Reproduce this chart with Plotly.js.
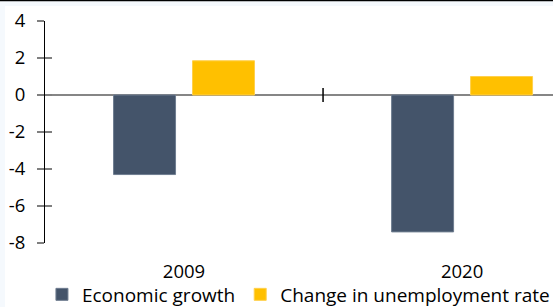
<!DOCTYPE html>
<html>
<head>
<meta charset="utf-8">
<script src="https://cdn.plot.ly/plotly-3.0.1.min.js"></script>
<style>html,body{margin:0;padding:0;background:#fff;}#chart{width:553px;height:307px;}</style>
</head>
<body>
<div id="chart"></div>
<script>
var categories = ['2009', '2020'];
var economicGrowth = [-4.3, -7.4];
var unemploymentChange = [1.85, 1.0];
var seriesNames = ['Economic growth', 'Change in unemployment rate'];
var yTickVals = [-8, -6, -4, -2, 0, 2, 4];
var yTickText = ['-8', '-6', '-4', '-2', '0', '2', '4'];

var FONT = '"Open Sans", Lato, sans-serif';
var FS = 18.5;
var LFS = 19;

var traces = [
  {type: 'bar', x: categories, y: economicGrowth, name: seriesNames[0],
   marker: {color: '#44546A', line: {color: '#6f7d90', width: 1}}, hoverinfo: 'none'},
  {type: 'bar', x: categories, y: unemploymentChange, name: seriesNames[1],
   marker: {color: '#FFC000', line: {color: '#ffd04d', width: 1}}, hoverinfo: 'none'},
  {type: 'scatter', x: [null], y: [null], yaxis: 'y2', showlegend: false, hoverinfo: 'none'}
];

var layout = {
  width: 553, height: 307,
  margin: {l: 45, r: 0, t: 21, b: 64, autoexpand: false},
  paper_bgcolor: '#f5f9fd',
  plot_bgcolor: 'rgba(0,0,0,0)',
  barmode: 'group',
  bargap: 0.432,
  bargroupgap: 0.215,
  font: {family: FONT, size: FS, color: '#000'},
  xaxis: {
    type: 'category',
    range: [-0.5, 1.327],
    showline: false, showgrid: false, zeroline: false,
    ticks: '', ticklabelstandoff: 15,
    tickfont: {family: FONT, size: FS, color: '#000'}
  },
  yaxis: {
    range: [-8, 4],
    tickmode: 'array', tickvals: yTickVals, ticktext: yTickText,
    showline: true, linecolor: '#000', linewidth: 1,
    showgrid: false,
    zeroline: true, zerolinecolor: '#868686', zerolinewidth: 2,
    ticks: 'outside', ticklen: 7, tickcolor: '#7f7f7f', tickwidth: 1.5,
    ticklabelstandoff: 8,
    tickfont: {family: FONT, size: FS, color: '#000'}
  },
  yaxis2: {
    overlaying: 'y', side: 'left', range: [-8, 4],
    tickvals: yTickVals, showticklabels: false,
    showline: false, showgrid: false, zeroline: false,
    ticks: 'inside', ticklen: 7, tickcolor: '#7f7f7f', tickwidth: 1.5
  },
  showlegend: true,
  legend: {
    orientation: 'h', x: -0.006, xanchor: 'left', xref: 'paper',
    y: -0.232, yanchor: 'middle',
    font: {family: FONT, size: LFS, color: '#000'},
    itemwidth: 30,
    traceorder: 'normal', bgcolor: 'rgba(0,0,0,0)'
  },
  shapes: [
    {type: 'rect', xref: 'paper', yref: 'paper', x0: -0.0787, x1: 1.01, y0: -0.35, y1: 1.0676,
     fillcolor: '#ffffff', line: {width: 0}, layer: 'below'},
    {type: 'line', xref: 'paper', yref: 'paper', x0: -0.1, x1: 1.01, y0: 1.0924, y1: 1.0924,
     line: {color: '#000', width: 1.5}},
    {type: 'line', xref: 'x', yref: 'y', x0: 0.5, x1: 0.5, y0: -0.38, y1: 0.38,
     line: {color: '#000', width: 1.5}}
  ]
};

Plotly.newPlot('chart', traces, layout, {displayModeBar: false, staticPlot: true});
</script>
</body>
</html>
